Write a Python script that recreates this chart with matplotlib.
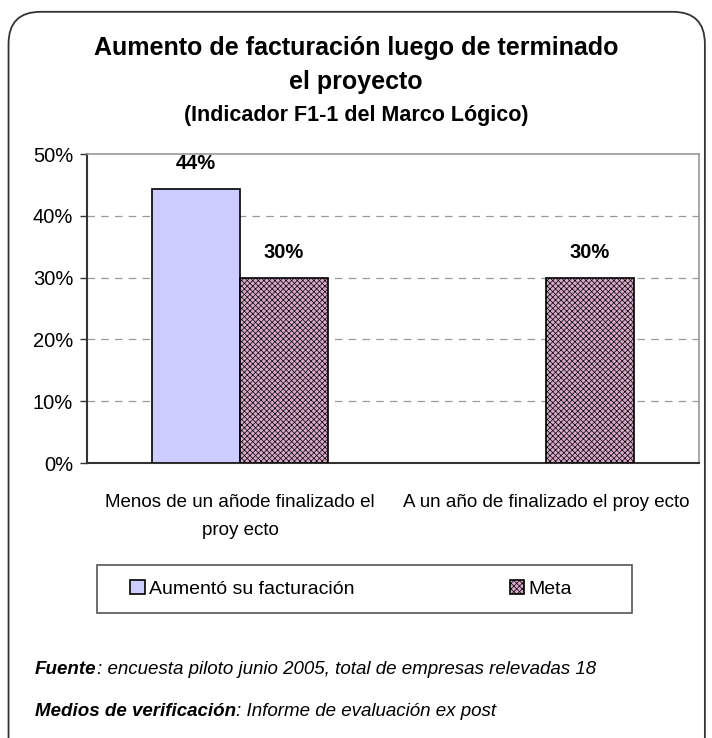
import matplotlib.pyplot as plt
import numpy as np
from matplotlib.patches import FancyBboxPatch, Rectangle
from matplotlib.ticker import PercentFormatter

plt.rcParams['font.family'] = ['Liberation Sans', 'DejaVu Sans']
plt.rcParams['hatch.color'] = '#c290b4'
plt.rcParams['hatch.linewidth'] = 0.5

# data
categories = ['Menos de un añode finalizado el\nproy ecto', 'A un año de finalizado el proy ecto']
aumento = [0.444, np.nan]
meta = [0.30, 0.30]
series_names = ['Aumentó su facturación', 'Meta']

fig = plt.figure(figsize=(7.12, 7.38), dpi=100)

# rounded frame around the whole chart
frame = FancyBboxPatch((0.012, -0.05), 0.978, 1.034, boxstyle="round,pad=0,rounding_size=0.045",
                       transform=fig.transFigure, facecolor='none', edgecolor='#333333',
                       linewidth=1.3, mutation_aspect=712 / 738)
fig.patches.append(frame)

ax = fig.add_axes([0.1222, 0.3726, 0.8595, 0.4187])
x = np.arange(len(categories))
w = 0.2876

b1 = ax.bar(x - w / 2, aumento, w, color='#ccccff', edgecolor='black', linewidth=1.2,
            label=series_names[0], zorder=3)
b2 = ax.bar(x + w / 2, meta, w, color='#d9a8cb', edgecolor='black', linewidth=1.2,
            hatch='xxxxxx', label=series_names[1], zorder=3)

for bars, vals in ((b1, aumento), (b2, meta)):
    for rect, v in zip(bars, vals):
        if np.isnan(v):
            continue
        ax.text(rect.get_x() + rect.get_width() / 2, v + 0.025, f'{int(v * 100)}%',
                ha='center', va='bottom', fontsize=14.5, fontweight='bold')

ax.set_xlim(-0.5, 1.5)
ax.set_ylim(0, 0.5)
ax.set_yticks(np.arange(0, 0.51, 0.1))
ax.yaxis.set_major_formatter(PercentFormatter(1.0, decimals=0))
ax.tick_params(axis='y', labelsize=14.5, length=5, width=1, color='#333333', pad=5)
ax.set_xticks(x)
ax.set_xticklabels(categories, fontsize=13.5, linespacing=1.9)
ax.tick_params(axis='x', length=0, pad=22)

for y in [0.1, 0.2, 0.3, 0.4]:
    ax.axhline(y, color='#999999', linestyle=(0, (6, 5)), linewidth=0.9, zorder=1)

for side in ['top', 'right']:
    ax.spines[side].set_color('#999999')
    ax.spines[side].set_linewidth(1.2)
for side in ['left', 'bottom']:
    ax.spines[side].set_color('#333333')
    ax.spines[side].set_linewidth(1.5)

# title
fig.text(0.5, 0.935, 'Aumento de facturación luego de terminado', ha='center', va='center',
         fontsize=18, fontweight='bold')
fig.text(0.5, 0.889, 'el proyecto', ha='center', va='center', fontsize=18, fontweight='bold')
fig.text(0.5, 0.843, '(Indicador F1-1 del Marco Lógico)', ha='center', va='center',
         fontsize=15.5, fontweight='bold')

# legend box
fig.patches.append(Rectangle((97 / 712, 1 - 613 / 738), 535 / 712, 48 / 738,
                             transform=fig.transFigure, facecolor='white',
                             edgecolor='#555555', linewidth=1.2))
fig.legend(handles=[b1, b2], loc='center', bbox_to_anchor=(351 / 712, 1 - 589 / 738), ncol=2,
           frameon=False, fontsize=14, handlelength=0.75, handleheight=0.75, handletextpad=0.2,
           columnspacing=8.0)

# footnotes
t1 = fig.text(35 / 712, 1 - 670 / 738, 'Fuente', fontsize=13.5, style='italic',
              fontweight='bold', va='center')
fig.canvas.draw()
bb = t1.get_window_extent()
fig.text(bb.x1 / 712, 1 - 670 / 738, ': encuesta piloto junio 2005, total de empresas relevadas 18',
         fontsize=13.5, style='italic', va='center')
t2 = fig.text(35 / 712, 1 - 711 / 738, 'Medios de verificación', fontsize=13.5, style='italic',
              fontweight='bold', va='center')
bb = t2.get_window_extent()
fig.text(bb.x1 / 712, 1 - 711 / 738, ': Informe de evaluación ex post',
         fontsize=13.5, style='italic', va='center')

fig.savefig('out.png', dpi=100)
